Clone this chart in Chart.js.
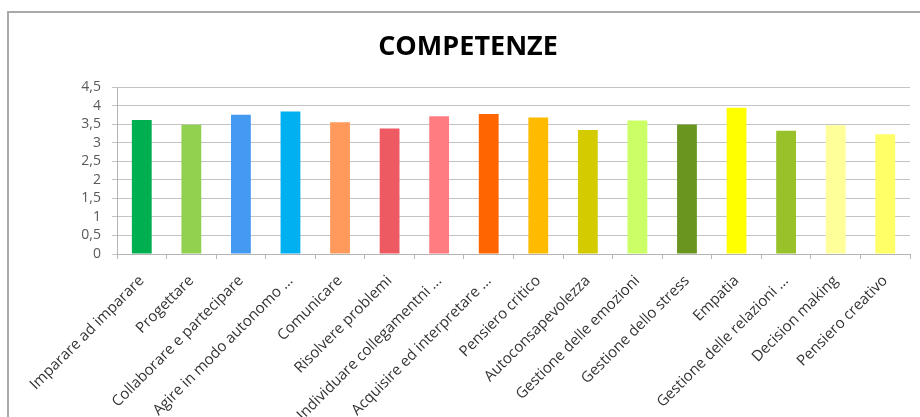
<!DOCTYPE html>
<html>
<head>
<meta charset="utf-8">
<script src="https://cdn.jsdelivr.net/npm/chart.js@4/dist/chart.umd.min.js"></script>
<style>
  html, body { margin: 0; padding: 0; background: #fff; }
  #wrap { position: relative; width: 920px; height: 417px; overflow: hidden; }
  #frame {
    position: absolute; left: 7px; top: 11px; width: 940px; height: 440px;
    border-left: 2px solid #a9a9a9; border-top: 2px solid #a9a9a9;
  }
  canvas { position: absolute; left: 0; top: 0; }
</style>
</head>
<body>
<div id="wrap">
  <div id="frame"></div>
  <canvas id="chart" width="920" height="417"></canvas>
</div>
<script>
// categorie e valori medi
const categories = [
  'Imparare ad imparare',
  'Progettare',
  'Collaborare e partecipare',
  'Agire in modo autonomo ...',
  'Comunicare',
  'Risolvere problemi',
  'Individuare collegamentni ...',
  'Acquisire ed interpretare ...',
  'Pensiero critico',
  'Autoconsapevolezza',
  'Gestione delle emozioni',
  'Gestione dello stress',
  'Empatia',
  'Gestione delle relazioni ...',
  'Decision making',
  'Pensiero creativo'
];
const values = [3.61, 3.48, 3.75, 3.84, 3.55, 3.38, 3.71, 3.77, 3.68, 3.34, 3.60, 3.49, 3.94, 3.32, 3.47, 3.23];
const barColors = [
  '#00B050', '#92D050', '#4499F0', '#00B0F0', '#FF9A5C', '#EE5A62', '#FF7C80', '#FF6600',
  '#FFBB00', '#D4CC00', '#CCFF66', '#6A961F', '#FFFF00', '#99C22A', '#FFFF99', '#FFFF66'
];
const yTickLabels = ['0', '0,5', '1', '1,5', '2', '2,5', '3', '3,5', '4', '4,5'];

const ctx = document.getElementById('chart').getContext('2d');

new Chart(ctx, {
  type: 'bar',
  data: {
    labels: categories,
    datasets: [{
      data: values,
      backgroundColor: barColors,
      barPercentage: 0.8,
      categoryPercentage: 0.5
    }]
  },
  options: {
    responsive: false,
    animation: false,
    layout: { padding: { left: 26, right: 10, top: 0, bottom: 0 } },
    plugins: {
      legend: { display: false },
      tooltip: { enabled: false },
      title: {
        display: true,
        text: 'COMPETENZE',
        color: '#000',
        font: { family: 'Open Sans', size: 27, weight: 'bold', lineHeight: 1.2 },
        padding: { top: 31, bottom: 23.6 }
      }
    },
    scales: {
      x: {
        grid: { display: true, drawOnChartArea: false, offset: true, color: '#b5b5b5', tickLength: 5 },
        border: { color: '#b5b5b5' },
        ticks: {
          autoSkip: false,
          minRotation: 45,
          maxRotation: 45,
          color: '#333333',
          padding: 13,
          font: { family: 'Open Sans', size: 15, weight: '500' }
        },
        afterFit: (scale) => { scale.height = 163; }
      },
      y: {
        min: 0,
        max: 4.5,
        grid: { color: '#c4c4c4', tickLength: 5 },
        border: { color: '#b5b5b5' },
        ticks: {
          autoSkip: false,
          stepSize: 0.5,
          color: '#595959',
          padding: 11,
          font: { family: 'Open Sans', size: 14 },
          callback: (v) => yTickLabels[Math.round(v * 2)]
        },
        afterFit: (scale) => { scale.width = 91; }
      }
    }
  }
});
</script>
</body>
</html>
